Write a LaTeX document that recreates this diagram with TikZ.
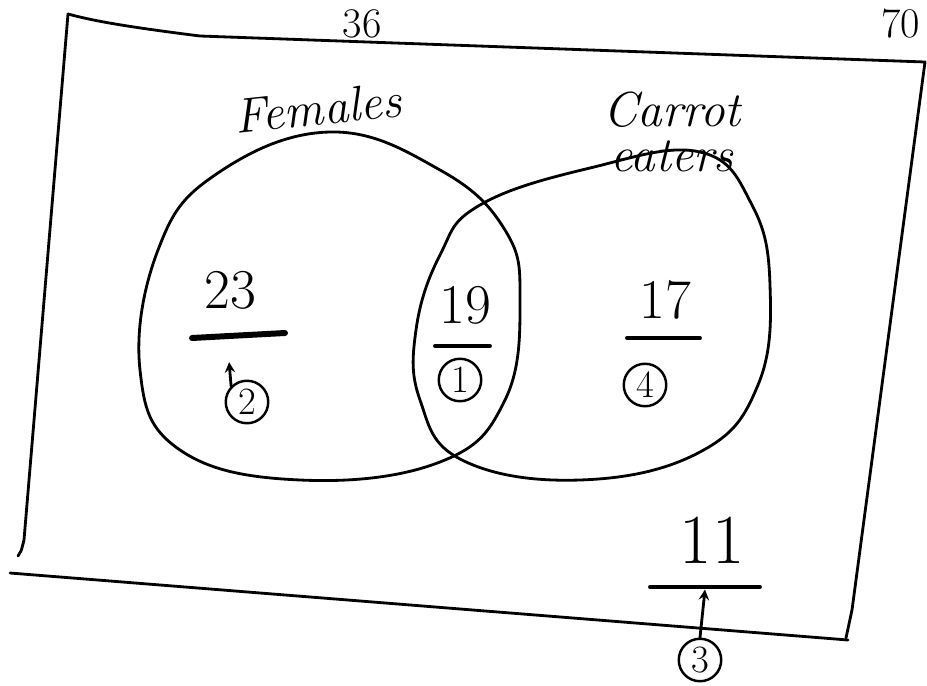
\documentclass[tikz,border=0pt]{standalone}
\usetikzlibrary{positioning}
\begin{document}
\begin{tikzpicture}[x=0.02cm, y=-0.02cm,
  hand/.style={line width=1.6pt, line cap=round, line join=round},
  bar/.style={hand, line width=2.2pt},
  count/.style={font=\fontsize{32}{34}\selectfont, inner sep=1pt},
  setname/.style={font=\itshape\fontsize{28}{24}\selectfont, inner sep=1pt, align=center},
  tag/.style={draw, circle, line width=1.4pt, minimum size=0.85cm, inner sep=0pt,
              font=\fontsize{22}{24}\selectfont},
  >=stealth
]
\useasboundingbox (0,0) rectangle (927,686);

% totals along the top edge
\node[count, font=\fontsize{24}{26}\selectfont] (tot36) at (362,24) {36};
\node[count, font=\fontsize{24}{26}\selectfont, anchor=east] (tot70) at (922,24) {70};

% the frame
\draw[hand] (68,14) .. controls (90,20) and (120,26) .. (200,36) -- (925,62)
            -- (852,610) -- (846,638);
\draw[hand] (10,573) -- (848,640);
\draw[hand] (68,14) -- (24,540) .. controls (21,552) .. (18,556);

% the two sets
\draw[hand] plot[smooth cycle, tension=0.7] coordinates {
  (215,175) (330,132) (440,170) (505,230) (520,300) (505,400)
  (440,462) (300,480) (180,450) (140,370) (158,250)};
\draw[hand] plot[smooth cycle, tension=0.7] coordinates {
  (480,205) (590,168) (700,152) (752,205) (770,285) (758,385)
  (700,452) (580,480) (462,460) (420,400) (416,330) (440,255)};

\node[setname, rotate=6] (fem) at (318,108) {Females};
\node[setname] (car) at (672,132) {Carrot\\[2pt]eaters};

% females only
\node[count] (n23) at (230,290) {23};
\coordinate (b23l) at (192,338);
\coordinate (b23r) at (285,333);
\draw[bar, line width=3.4pt] (b23l) -- (b23r);
\node[tag] (t2) at (247,402) {2};
\draw[hand, ->] (t2.north west) -- ++(-2,-24);

% both
\node[count] (n19) at (465,305) {19};
\coordinate (b19l) at (435,346);
\coordinate (b19r) at (490,346);
\draw[bar] (b19l) -- (b19r);
\node[tag] (t1) at (460,380) {1};

% carrot eaters only
\node[count] (n17) at (665,300) {17};
\coordinate (b17l) at (627,338);
\coordinate (b17r) at (700,338);
\draw[bar] (b17l) -- (b17r);
\node[tag] (t4) at (645,385) {4};

% neither
\node[count, font=\fontsize{40}{42}\selectfont] (n11) at (712,540) {11};
\coordinate (b11l) at (650,587);
\coordinate (b11r) at (760,587);
\draw[bar] (b11l) -- (b11r);
\node[tag] (t3) at (700,660) {3};
\draw[hand, ->] (t3.north) -- ++(5,-48);
\end{tikzpicture}
\end{document}
